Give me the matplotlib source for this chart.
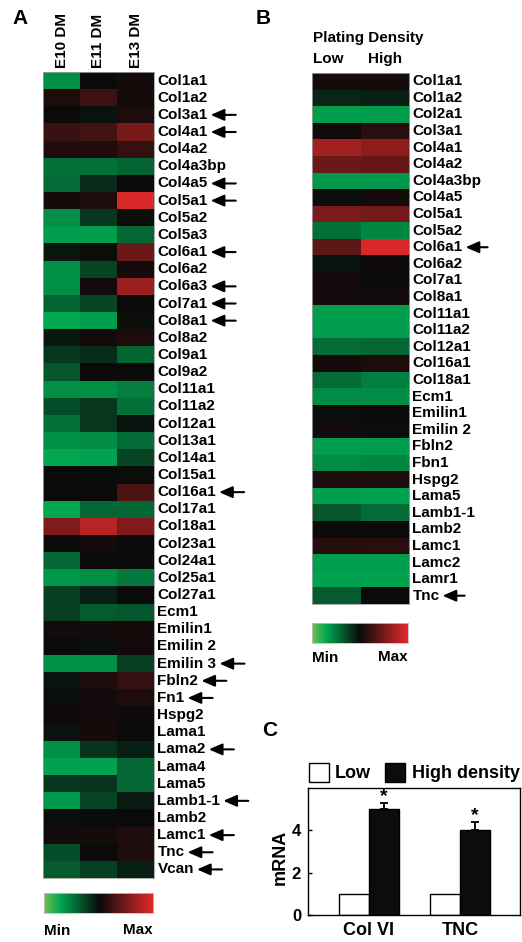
import numpy as np
import matplotlib
matplotlib.use("Agg")
import matplotlib.pyplot as plt
import matplotlib.transforms as mtransforms
from matplotlib.colors import LinearSegmentedColormap
from matplotlib.patches import Rectangle, FancyArrowPatch

plt.rcParams['font.family'] = ['Liberation Sans', 'DejaVu Sans']
plt.rcParams['font.weight'] = 'bold'

# ---- panel A: developmental time course (relative expression, 0 = min, 1 = max)
genes_a = ["Col1a1", "Col1a2", "Col3a1", "Col4a1", "Col4a2", "Col4a3bp", "Col4a5",
           "Col5a1", "Col5a2", "Col5a3", "Col6a1", "Col6a2", "Col6a3", "Col7a1",
           "Col8a1", "Col8a2", "Col9a1", "Col9a2", "Col11a1", "Col11a2", "Col12a1",
           "Col13a1", "Col14a1", "Col15a1", "Col16a1", "Col17a1", "Col18a1",
           "Col23a1", "Col24a1", "Col25a1", "Col27a1", "Ecm1", "Emilin1", "Emilin 2",
           "Emilin 3", "Fbln2", "Fn1", "Hspg2", "Lama1", "Lama2", "Lama4", "Lama5",
           "Lamb1-1", "Lamb2", "Lamc1", "Tnc", "Vcan"]
stages_a = ["E10 DM", "E11 DM", "E13 DM"]
e10 = [0.20, 0.54, 0.50, 0.61, 0.55, 0.27, 0.28, 0.53, 0.20, 0.17, 0.47, 0.20, 0.20, 0.30,
       0.15, 0.47, 0.40, 0.33, 0.20, 0.35, 0.27, 0.20, 0.15, 0.50, 0.50, 0.15, 0.77,
       0.50, 0.29, 0.18, 0.38, 0.38, 0.52, 0.50, 0.20, 0.48, 0.49, 0.51, 0.48, 0.20,
       0.16, 0.40, 0.18, 0.49, 0.52, 0.35, 0.32]
e11 = [0.50, 0.62, 0.48, 0.63, 0.55, 0.27, 0.42, 0.55, 0.40, 0.17, 0.49, 0.37, 0.52, 0.37,
       0.17, 0.52, 0.42, 0.50, 0.20, 0.40, 0.40, 0.21, 0.16, 0.50, 0.50, 0.29, 0.90,
       0.52, 0.50, 0.20, 0.45, 0.32, 0.52, 0.49, 0.20, 0.55, 0.52, 0.52, 0.53, 0.41,
       0.16, 0.41, 0.37, 0.50, 0.53, 0.50, 0.38]
e13 = [0.53, 0.53, 0.54, 0.75, 0.60, 0.30, 0.50, 0.97, 0.49, 0.29, 0.72, 0.53, 0.83, 0.50,
       0.49, 0.54, 0.30, 0.50, 0.24, 0.27, 0.48, 0.28, 0.37, 0.49, 0.65, 0.29, 0.77,
       0.50, 0.50, 0.25, 0.50, 0.33, 0.53, 0.52, 0.38, 0.60, 0.54, 0.51, 0.50, 0.45,
       0.29, 0.29, 0.46, 0.50, 0.55, 0.55, 0.45]
arrows_a = ["Col3a1", "Col4a1", "Col4a5", "Col5a1", "Col6a1", "Col6a3", "Col7a1", "Col8a1",
            "Col16a1", "Emilin 3", "Fbln2", "Fn1", "Lama2", "Lamb1-1", "Lamc1", "Tnc", "Vcan"]

# ---- panel B: plating density
genes_b = ["Col1a1", "Col1a2", "Col2a1", "Col3a1", "Col4a1", "Col4a2", "Col4a3bp", "Col4a5",
           "Col5a1", "Col5a2", "Col6a1", "Col6a2", "Col7a1", "Col8a1", "Col11a1", "Col11a2",
           "Col12a1", "Col16a1", "Col18a1", "Ecm1", "Emilin1", "Emilin 2", "Fbln2", "Fbn1",
           "Hspg2", "Lama5", "Lamb1-1", "Lamb2", "Lamc1", "Lamc2", "Lamr1", "Tnc"]
low = [0.53, 0.44, 0.17, 0.52, 0.85, 0.72, 0.18, 0.49, 0.76, 0.27, 0.69, 0.48, 0.52, 0.52,
       0.17, 0.17, 0.28, 0.53, 0.28, 0.21, 0.49, 0.52, 0.17, 0.21, 0.54, 0.17, 0.33, 0.50,
       0.56, 0.17, 0.16, 0.32]
high = [0.53, 0.45, 0.17, 0.57, 0.80, 0.71, 0.18, 0.53, 0.74, 0.22, 0.97, 0.51, 0.50, 0.52,
        0.17, 0.17, 0.29, 0.54, 0.24, 0.21, 0.50, 0.49, 0.17, 0.22, 0.54, 0.16, 0.28, 0.50,
        0.57, 0.17, 0.16, 0.50]
arrows_b = ["Col6a1", "Tnc"]

# ---- panel C: qPCR
bar_groups = ["Col VI", "TNC"]
mrna_low = [1.0, 1.0]
mrna_high = [5.0, 4.0]
mrna_high_err = [0.3, 0.4]

W, H = 522, 942
fig = plt.figure(figsize=(W / 100, H / 100), dpi=100)

cmap = LinearSegmentedColormap.from_list(
    "gkr", [(0.0, "#72c04a"), (0.15, "#00a651"), (0.5, "#0a0a0a"), (1.0, "#e52a2a")])


def px_axes(x0, y0, x1, y1):
    # axes placed by pixel box measured from the top-left corner
    return fig.add_axes([x0 / W, 1 - y1 / H, (x1 - x0) / W, (y1 - y0) / H])


def heatmap(ax, mat, genes):
    ax.imshow(mat, cmap=cmap, vmin=0, vmax=1, aspect="auto", interpolation="nearest")
    ax.set_xticks([])
    ax.set_yticks([])
    for s in ax.spines.values():
        s.set_color("#a0a0a0")
        s.set_linewidth(0.6)
    trans = mtransforms.blended_transform_factory(ax.transAxes, ax.transData)
    labels = {}
    for i, g in enumerate(genes):
        labels[g] = (ax.annotate(g, xy=(1, i), xycoords=trans, xytext=(2.5, 0),
                                 textcoords="offset points", ha="left", va="center",
                                 fontsize=11, fontweight="bold"), ax, i)
    return labels


def color_key(x0, y0, x1, y1, ylab):
    ax = px_axes(x0, y0, x1, y1)
    ax.imshow(np.linspace(0, 1, 256)[None, :], cmap=cmap, aspect="auto")
    ax.set_xticks([])
    ax.set_yticks([])
    for s in ax.spines.values():
        s.set_color("#c0c0c0")
        s.set_linewidth(0.6)
    fig.text(x0 / W, 1 - ylab / H, "Min", ha="left", va="center", fontsize=11)
    fig.text(x1 / W, 1 - (ylab - 1) / H, "Max", ha="right", va="center", fontsize=11)


# panel A
ax_a = px_axes(43, 72, 154, 878)
labels_a = heatmap(ax_a, np.column_stack([e10, e11, e13]), genes_a)
for j, s in enumerate(stages_a):
    ax_a.annotate(s, xy=(j, 1), xycoords=("data", "axes fraction"), xytext=(0, 3),
                  textcoords="offset points", rotation=90, ha="center", va="bottom",
                  fontsize=11)
color_key(44, 893, 153, 913, 931)

# panel B
ax_b = px_axes(312, 73, 409, 604)
labels_b = heatmap(ax_b, np.column_stack([low, high]), genes_b)
fig.text(313 / W, 1 - 38 / H, "Plating Density", ha="left", va="center", fontsize=11)
fig.text(313 / W, 1 - 59 / H, "Low", ha="left", va="center", fontsize=11)
fig.text(368 / W, 1 - 59 / H, "High", ha="left", va="center", fontsize=11)
color_key(312, 623, 408, 643, 658)

# panel C
ax_c = px_axes(308, 788, 520, 915)
xs = np.arange(len(bar_groups))
bw = 0.33
ax_c.bar(xs - bw / 2, mrna_low, bw, color="white", edgecolor="black", linewidth=1)
ax_c.bar(xs + bw / 2, mrna_high, bw, color="#0c0c0c", edgecolor="black", linewidth=1,
         yerr=[np.zeros(len(xs)), mrna_high_err], capsize=3,
         error_kw=dict(elinewidth=1.3, capthick=1.3, ecolor="black"))
for x, v, e in zip(xs, mrna_high, mrna_high_err):
    ax_c.text(x + bw / 2, v + e + 0.3, "*", ha="center", va="center", fontsize=14)
ax_c.set_xlim(-0.67, 1.66)
ax_c.set_ylim(0, 6)
ax_c.set_yticks([0, 2, 4])
ax_c.set_xticks(xs, bar_groups)
ax_c.tick_params(axis="x", length=0, pad=5, labelsize=13)
ax_c.tick_params(axis="y", direction="in", length=3, width=1, pad=5, labelsize=12)
for s in ax_c.spines.values():
    s.set_linewidth(1)
fig.text(280 / W, 1 - 857 / H, "mRNA", rotation=90, ha="center", va="center", fontsize=13)

# legend for panel C
fig.add_artist(Rectangle((309 / W, 1 - 782 / H), 20 / W, 19 / H, transform=fig.transFigure,
                         facecolor="white", edgecolor="black", linewidth=1))
fig.add_artist(Rectangle((385 / W, 1 - 782 / H), 20 / W, 19 / H, transform=fig.transFigure,
                         facecolor="#0c0c0c", edgecolor="black", linewidth=1))
fig.text(335 / W, 1 - 773 / H, "Low", ha="left", va="center", fontsize=13)
fig.text(412 / W, 1 - 773 / H, "High density", ha="left", va="center", fontsize=13)

# panel letters
fig.text(20 / W, 1 - 19 / H, "A", ha="center", va="center", fontsize=15)
fig.text(263 / W, 1 - 19 / H, "B", ha="center", va="center", fontsize=15)
fig.text(270 / W, 1 - 731 / H, "C", ha="center", va="center", fontsize=15)

# arrows after the gene names, placed once the label extents are known
fig.canvas.draw()
renderer = fig.canvas.get_renderer()
for labels, marked, length in ((labels_a, arrows_a, 25), (labels_b, arrows_b, 22)):
    for g in marked:
        t, ax, i = labels[g]
        bb = t.get_window_extent(renderer)
        y = ax.transData.transform((0, i))[1]
        tip = bb.x1 + 3
        fig.add_artist(FancyArrowPatch((tip + length, y), (tip, y),
                                       transform=mtransforms.IdentityTransform(),
                                       arrowstyle="-|>,head_length=0.8,head_width=0.35",
                                       mutation_scale=10, linewidth=1.5, color="black",
                                       shrinkA=0, shrinkB=0))

fig.savefig("out.png", dpi=100)
